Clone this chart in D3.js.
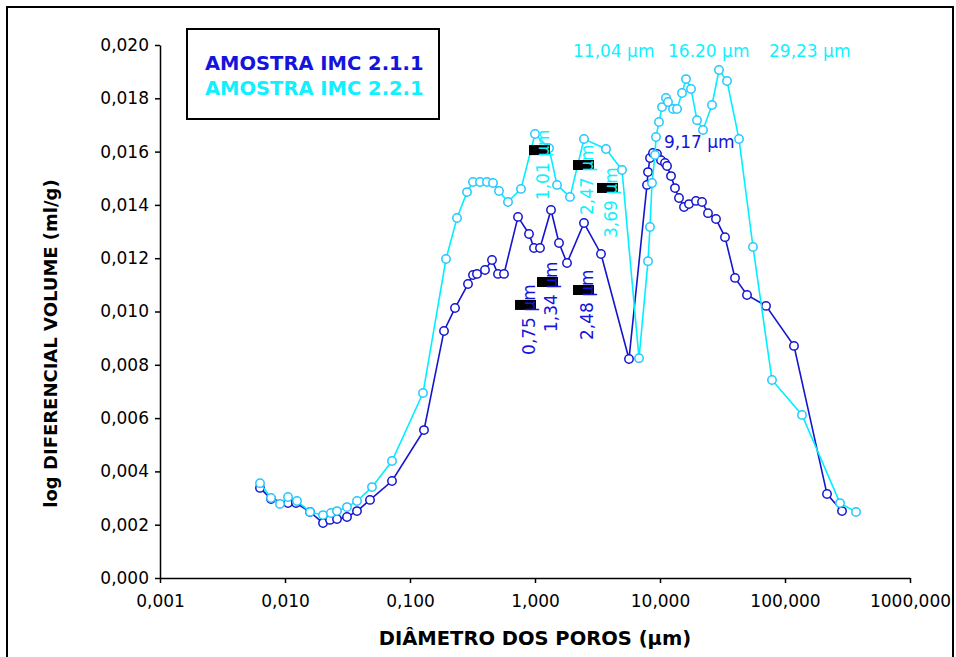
<!DOCTYPE html>
<html>
<head>
<meta charset="utf-8">
<script src="https://cdn.jsdelivr.net/npm/d3@7"></script>
<style>
  body { margin: 0; background: #fff; }
  svg { display: block; font-family: "DejaVu Sans", sans-serif; }
</style>
</head>
<body>
<div id="chart"></div>
<script>
// pore diameter (um) and log differential volume (ml/g)
const diam1 = [0.00631, 0.00773, 0.01057, 0.01225, 0.01585, 0.02014, 0.02291, 0.02606, 0.03133, 0.03767,
  0.04786, 0.07178, 0.1294, 0.1871, 0.2291, 0.2911, 0.3192, 0.3436, 0.3981, 0.4529,
  0.5058, 0.5649, 0.7311, 0.8954, 0.9817, 1.0965, 1.343, 1.556, 1.803, 2.466,
  3.373, 5.649, 7.870, 8.017, 8.318, 8.790, 9.462, 10.19, 10.96, 11.38,
  12.25, 13.18, 14.19, 15.56, 17.06, 19.41, 21.68, 24.21, 28.05, 33.11,
  39.81, 49.66, 70.47, 118.0, 216.8, 285.8];
const vol1 = [0.00338, 0.00296, 0.00281, 0.00281, 0.00248, 0.00206, 0.00218, 0.00221, 0.00229, 0.00251,
  0.00293, 0.00364, 0.00555, 0.00927, 0.01013, 0.01103, 0.01137, 0.01141, 0.01156, 0.01193,
  0.01141, 0.01141, 0.01355, 0.01291, 0.01238, 0.01238, 0.01381, 0.01257, 0.01182, 0.01332,
  0.01216, 0.00822, 0.01475, 0.01523, 0.01576, 0.01595, 0.01591, 0.01568, 0.01557, 0.01546,
  0.01508, 0.01463, 0.01426, 0.01392, 0.01403, 0.01415, 0.01411, 0.01369, 0.01347, 0.01279,
  0.01126, 0.01062, 0.01021, 0.00871, 0.00315, 0.00251];

const diam2 = [0.00631, 0.00773, 0.00912, 0.01057, 0.01247, 0.01585, 0.02014, 0.02333, 0.02606, 0.03133,
  0.03767, 0.04966, 0.07178, 0.1271, 0.1941, 0.2377, 0.2858, 0.3192, 0.3631, 0.4130,
  0.4613, 0.5152, 0.6081, 0.7727, 1.000, 1.294, 1.500, 1.905, 2.466, 3.698,
  4.966, 6.792, 8.017, 8.318, 8.630, 9.120, 9.290, 9.817, 10.38, 11.17,
  11.59, 12.71, 13.68, 15.00, 16.14, 17.70, 19.77, 22.08, 26.06, 29.65,
  34.36, 42.85, 55.46, 78.70, 136.8, 275.4, 369.8];
const vol2 = [0.00356, 0.00300, 0.00278, 0.00304, 0.00289, 0.00248, 0.00236, 0.00244, 0.00251, 0.00266,
  0.00289, 0.00341, 0.00439, 0.00694, 0.01197, 0.01351, 0.01448, 0.01486, 0.01486, 0.01486,
  0.01482, 0.01452, 0.01411, 0.01460, 0.01666, 0.01613, 0.01475, 0.01430, 0.01647, 0.01610,
  0.01531, 0.00825, 0.01189, 0.01317, 0.01482, 0.01587, 0.01655, 0.01711, 0.01767, 0.01801,
  0.01786, 0.01760, 0.01760, 0.01820, 0.01872, 0.01835, 0.01718, 0.01681, 0.01775, 0.01906,
  0.01865, 0.01647, 0.01242, 0.00743, 0.00612, 0.00281, 0.00248];

const seriesNames = ["AMOSTRA IMC 2.1.1", "AMOSTRA IMC 2.2.1"];
const xTicks = [0.001, 0.01, 0.1, 1, 10, 100, 1000];
const yTicks = [0, 0.002, 0.004, 0.006, 0.008, 0.010, 0.012, 0.014, 0.016, 0.018, 0.020];

// rotated labels: text, diameter, volume at start of text, series
const vLabels = [
  ["0,75 µm", 1.0, 0.00837, 0],
  ["1,34 µm", 1.50, 0.00923, 0],
  ["2,48 µm", 2.91, 0.00893, 0],
  ["1,01 µm", 1.294, 0.01418, 1],
  ["2,47 µm", 2.91, 0.01362, 1],
  ["3,69 µm", 4.53, 0.01276, 1]
];
// horizontal labels
const hLabels = [
  ["9,17 µm", 10.76, 0.01613, 0],
  ["11,04 µm", 2.014, 0.01955, 1],
  ["16.20 µm", 11.59, 0.01955, 1],
  ["29,23 µm", 74.5, 0.01955, 1]
];

const lineColors = ["#1515d0", "#00f0ff"];
const markColors = ["#1515d0", "#20c8ff"];
const textColors = ["#1414dc", "#10f0ff"];

const W = 956, H = 657;
const margin = {top: 45, right: 46, bottom: 79, left: 160};

const svg = d3.select("#chart").append("svg")
  .attr("width", W)
  .attr("height", H);

// outer frame
svg.append("rect")
  .attr("x", 7).attr("y", 7)
  .attr("width", 946).attr("height", 660)
  .attr("fill", "none")
  .attr("stroke", "#000")
  .attr("stroke-width", 2);

const x = d3.scaleLog()
  .domain([0.001, 1000])
  .range([margin.left, W - margin.right]);
const y = d3.scaleLinear()
  .domain([0, 0.02])
  .range([H - margin.bottom + 0, margin.top]);

const fmt = d => d3.format(".3f")(d).replace(".", ",");

// axes
const yAxis = svg.append("g")
  .attr("transform", `translate(${margin.left},0)`)
  .call(d3.axisLeft(y).tickValues(yTicks).tickFormat(fmt).tickSize(5).tickSizeOuter(0).tickPadding(6));
const xAxis = svg.append("g")
  .attr("transform", `translate(0,${y(0)})`)
  .call(d3.axisBottom(x).tickValues(xTicks).tickFormat(fmt).tickSize(5).tickSizeOuter(0).tickPadding(12));

[xAxis, yAxis].forEach(a => {
  a.selectAll("path, line").attr("stroke", "#000").attr("stroke-width", 1.5);
  a.selectAll("text").attr("fill", "#000").style("font-size", "17px").style("font-family", "DejaVu Sans");
});

// axis titles
svg.append("text")
  .attr("x", (margin.left + W - margin.right) / 2)
  .attr("y", 645)
  .attr("text-anchor", "middle")
  .style("font-size", "19.5px")
  .style("font-weight", "bold")
  .text("DIÂMETRO DOS POROS (µm)");

svg.append("text")
  .attr("transform", `translate(57,${(margin.top + y(0)) / 2 + 32}) rotate(-90)`)
  .attr("text-anchor", "middle")
  .style("font-size", "18px")
  .style("font-weight", "bold")
  .text("log DIFERENCIAL VOLUME (ml/g)");

// series
const series = [
  d3.zip(diam1, vol1),
  d3.zip(diam2, vol2)
];
const line = d3.line().x(d => x(d[0])).y(d => y(d[1]));

series.forEach((pts, i) => {
  const g = svg.append("g");
  g.append("path")
    .datum(pts)
    .attr("d", line)
    .attr("fill", "none")
    .attr("stroke", lineColors[i])
    .attr("stroke-width", 1.6);
  g.selectAll("circle")
    .data(pts)
    .enter()
    .append("circle")
      .attr("cx", d => x(d[0]))
      .attr("cy", d => y(d[1]))
      .attr("r", 4.2)
      .attr("fill", "#fff")
      .attr("stroke", markColors[i])
      .attr("stroke-width", 1.5);
});

// rotated data labels, the µ shows as a black box like in the original
vLabels.forEach(l => {
  const lx = x(l[1]), ly = y(l[2]);
  svg.append("rect")
    .attr("x", lx - 20)
    .attr("y", ly - 55)
    .attr("width", 21)
    .attr("height", 10)
    .attr("fill", "#000");
  svg.append("text")
    .attr("transform", `translate(${lx},${ly}) rotate(-90)`)
    .style("font-size", "17px")
    .attr("fill", textColors[l[3]])
    .text(l[0]);
});

hLabels.forEach(l => {
  svg.append("text")
    .attr("x", x(l[1]))
    .attr("y", y(l[2]))
    .style("font-size", "17px")
    .attr("fill", textColors[l[3]])
    .text(l[0]);
});

// legend
svg.append("rect")
  .attr("x", 187).attr("y", 29)
  .attr("width", 252).attr("height", 90)
  .attr("fill", "#fff")
  .attr("stroke", "#000")
  .attr("stroke-width", 2);

svg.selectAll(".legend")
  .data(seriesNames)
  .enter()
  .append("text")
    .attr("class", "legend")
    .attr("x", 205)
    .attr("y", (d, i) => 70 + i * 25)
    .style("font-size", "19.5px")
    .style("font-weight", "bold")
    .attr("fill", (d, i) => textColors[i])
    .text(d => d);
</script>
</body>
</html>
